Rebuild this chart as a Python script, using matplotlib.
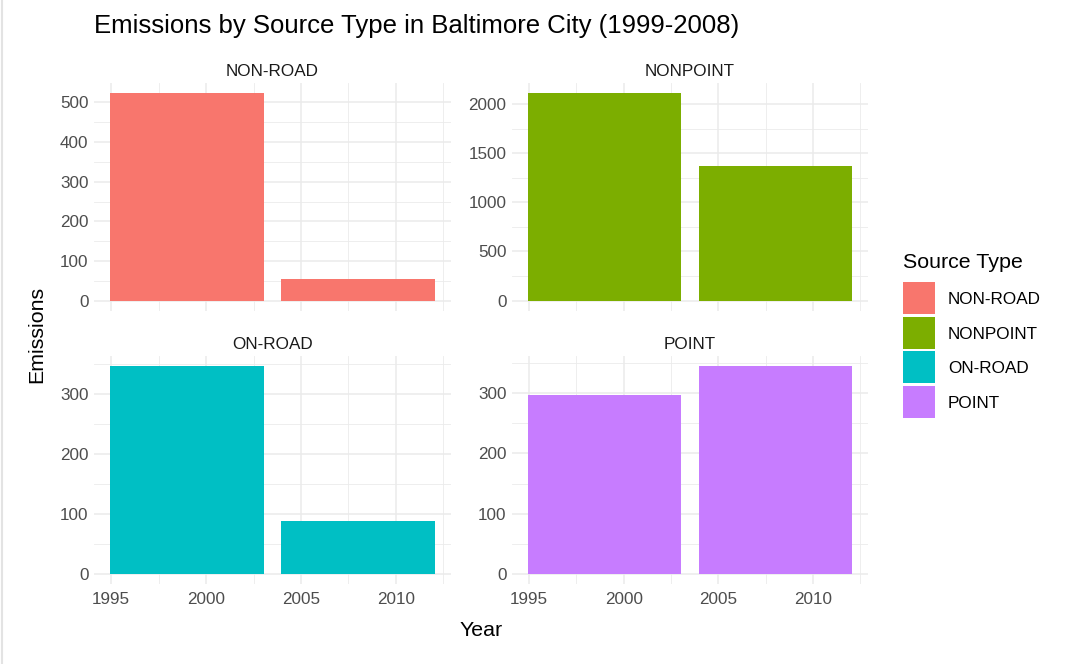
import matplotlib
matplotlib.use("Agg")
import matplotlib.pyplot as plt
from matplotlib.ticker import MultipleLocator
from matplotlib.patches import Rectangle
from matplotlib.lines import Line2D

plt.rcParams['font.family'] = ['Liberation Sans', 'DejaVu Sans']

# ---- data ----
source_types = ["NON-ROAD", "NONPOINT", "ON-ROAD", "POINT"]
years = [1999, 2008]
emissions_nonroad = [522.9, 55.8]
emissions_nonpoint = [2107.6, 1373.2]
emissions_onroad = [346.8, 88.3]
emissions_point = [296.8, 345.0]
series = [emissions_nonroad, emissions_nonpoint, emissions_onroad, emissions_point]
colors = ["#F8766D", "#7CAE00", "#00BFC4", "#C77CFF"]
x_ticks = [1995, 2000, 2005, 2010]
y_steps = [100, 500, 100, 100]

W, H = 1078, 664
fig = plt.figure(figsize=(W / 100, H / 100), dpi=100)

def add_ax(x0, y0, x1, y1):
    return fig.add_axes([x0 / W, 1 - y1 / H, (x1 - x0) / W, (y1 - y0) / H])

boxes = [(94, 83, 451, 311), (512, 83, 868, 311),
         (94, 356, 451, 584), (512, 356, 868, 584)]

grid_c = "#EBEBEB"
for i, (name, vals, col, step, box) in enumerate(zip(source_types, series, colors, y_steps, boxes)):
    ax = add_ax(*box)
    ax.bar(years, vals, width=8.1, color=col, zorder=3)
    ymax = max(vals)
    ax.set_ylim(-0.05 * ymax, 1.05 * ymax)
    ax.set_xlim(1994.095, 2012.905)
    ax.set_xticks(x_ticks)
    ax.xaxis.set_minor_locator(MultipleLocator(2.5))
    ax.yaxis.set_major_locator(MultipleLocator(step))
    ax.yaxis.set_minor_locator(MultipleLocator(step / 2))
    ax.grid(which="major", color=grid_c, linewidth=1.15, zorder=0)
    ax.grid(which="minor", color=grid_c, linewidth=0.6, zorder=0)
    for s in ax.spines.values():
        s.set_visible(False)
    ax.tick_params(which="both", length=0, labelsize=12.3, labelcolor="#4D4D4D", pad=4)
    if i < 2:
        ax.tick_params(axis="x", labelbottom=False)
    else:
        ax.tick_params(axis="x", pad=6)
    ax.set_title(name, fontsize=12.3, color="#1A1A1A", pad=5)

fig.text(94 / W, 1 - 26 / H, "Emissions by Source Type in Baltimore City (1999-2008)",
         fontsize=18.5, color="black", ha="left", va="center")
fig.text(481 / W, 1 - 630 / H, "Year", fontsize=15.4, ha="center", va="center")
fig.text(37 / W, 1 - 334 / H, "Emissions", fontsize=15.4, ha="center", va="center", rotation=90)

# legend
fig.text(903 / W, 1 - 262 / H, "Source Type", fontsize=15.4, ha="left", va="center")
key_top = 282
for j, (name, col) in enumerate(zip(source_types, colors)):
    y0 = key_top + j * 34.6
    fig.add_artist(Rectangle((903 / W, 1 - (y0 + 32) / H), 32 / W, 32 / H,
                             transform=fig.transFigure, facecolor=col, edgecolor="none"))
    fig.text(948 / W, 1 - (y0 + 17.5) / H, name, fontsize=12.3, ha="left", va="center")

# left border
fig.add_artist(Line2D([1.5 / W, 1.5 / W], [0, 1], transform=fig.transFigure,
                      color="#E3E3E3", linewidth=1.5))

fig.savefig("out.png", dpi=100, facecolor="white")
